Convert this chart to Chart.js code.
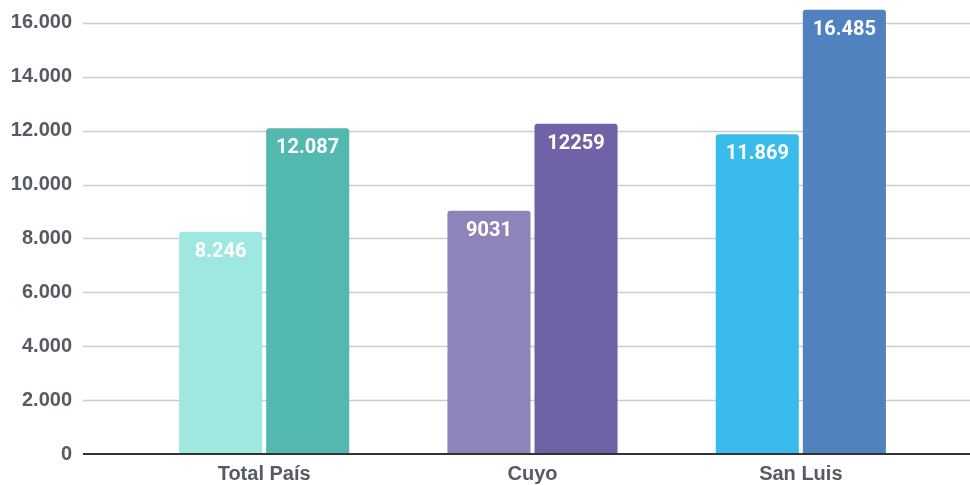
<!DOCTYPE html>
<html>
<head>
<meta charset="utf-8">
<script src="https://cdn.jsdelivr.net/npm/chart.js@4/dist/chart.umd.min.js"></script>
<style>
  html, body { margin: 0; padding: 0; background: #fff; }
  #wrap { width: 970px; height: 485px; }
</style>
</head>
<body>
<div id="wrap"><canvas id="barChart"></canvas></div>
<script>
// --- Data ---
const categories = ['Total País', 'Cuyo', 'San Luis'];
const firstValues = [8246, 9031, 11869];
const secondValues = [12087, 12259, 16485];
const firstLabels = ['8.246', '9031', '11.869'];
const secondLabels = ['12.087', '12259', '16.485'];
const firstColors = ['#9fe8e2', '#8f84ba', '#39bcec'];
const secondColors = ['#52b8b0', '#6f62a6', '#4f82be'];
const yTickValues = [0, 2000, 4000, 6000, 8000, 10000, 12000, 14000, 16000];
const yMax = 16850;

function formatThousands(v) {
    return v.toString().replace(/\B(?=(\d{3})+(?!\d))/g, '.');
}

// gridlines run wider than the bar area, so draw them by hand
const gridPlugin = {
    id: 'wideGrid',
    beforeDatasetsDraw(chart) {
        const { ctx, chartArea, scales } = chart;
        const y = scales.y;
        ctx.save();
        ctx.strokeStyle = '#cccccc';
        ctx.lineWidth = 1.5;
        y.ticks.forEach(t => {
            if (t.value === 0) return;
            const py = Math.round(y.getPixelForValue(t.value)) + 0.5;
            ctx.beginPath();
            ctx.moveTo(chartArea.left - 47, py);
            ctx.lineTo(chart.width, py);
            ctx.stroke();
        });
        ctx.restore();
    },
    afterDatasetsDraw(chart) {
        const { ctx, chartArea, scales } = chart;
        const py = scales.y.getPixelForValue(0);
        ctx.save();
        ctx.strokeStyle = '#333333';
        ctx.lineWidth = 2;
        ctx.beginPath();
        ctx.moveTo(chartArea.left - 47, py);
        ctx.lineTo(chart.width, py);
        ctx.stroke();
        ctx.restore();
    }
};

// value labels inside the top of each bar
const labelPlugin = {
    id: 'barLabels',
    afterDatasetsDraw(chart) {
        const { ctx } = chart;
        ctx.save();
        ctx.fillStyle = '#ffffff';
        ctx.font = 'bold 20px Roboto';
        ctx.textAlign = 'center';
        ctx.textBaseline = 'middle';
        chart.data.datasets.forEach((ds, di) => {
            chart.getDatasetMeta(di).data.forEach((bar, i) => {
                ctx.fillText(ds.valueLabels[i], bar.x, bar.y + 20);
            });
        });
        ctx.restore();
    }
};

new Chart(document.getElementById('barChart'), {
    type: 'bar',
    data: {
        labels: categories,
        datasets: [
            {
                data: firstValues,
                valueLabels: firstLabels,
                backgroundColor: firstColors,
                borderRadius: { topLeft: 3, topRight: 3 },
                borderSkipped: 'start',
                barPercentage: 0.954,
                categoryPercentage: 0.649
            },
            {
                data: secondValues,
                valueLabels: secondLabels,
                backgroundColor: secondColors,
                borderRadius: { topLeft: 3, topRight: 3 },
                borderSkipped: 'start',
                barPercentage: 0.954,
                categoryPercentage: 0.649
            }
        ]
    },
    options: {
        responsive: true,
        maintainAspectRatio: false,
        animation: false,
        layout: { padding: { left: 11, right: 35, top: 0, bottom: 0 } },
        plugins: {
            legend: { display: false },
            tooltip: { enabled: false }
        },
        scales: {
            x: {
                grid: { display: false, drawTicks: false },
                border: { display: false },
                afterFit(scale) {
                    scale.height = 31;
                    scale.paddingLeft = 0;
                    scale.paddingRight = 0;
                },
                ticks: {
                    color: '#555a63',
                    padding: 8,
                    font: { family: 'Liberation Sans', size: 20, weight: 'bold' }
                }
            },
            y: {
                min: 0,
                max: yMax,
                grid: { display: false, drawTicks: false },
                border: { display: false },
                afterBuildTicks(scale) {
                    scale.ticks = yTickValues.map(v => ({ value: v }));
                },
                afterFit(scale) {
                    scale.width = 119;
                    scale.paddingTop = 0;
                    scale.paddingBottom = 0;
                },
                ticks: {
                    color: '#555a63',
                    padding: 58,
                    font: { family: 'Liberation Sans', size: 20, weight: 'bold' },
                    callback: v => formatThousands(v)
                }
            }
        }
    },
    plugins: [gridPlugin, labelPlugin]
});
</script>
</body>
</html>
